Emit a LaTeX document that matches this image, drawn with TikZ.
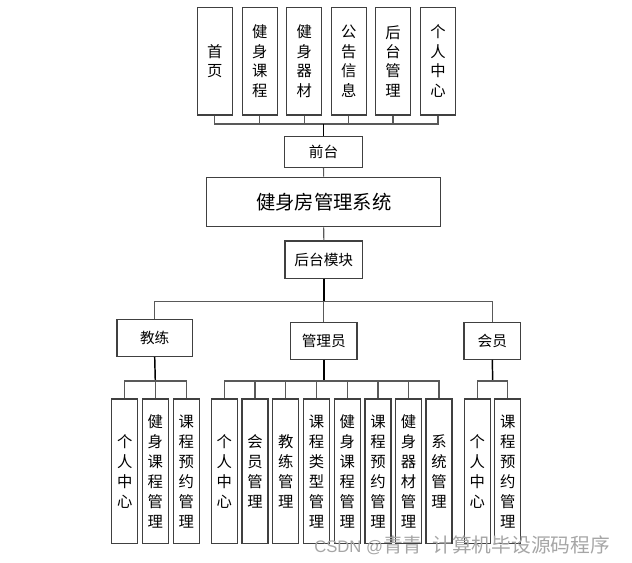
\documentclass[tikz,border=0pt]{standalone}
\usepackage{fontspec}
\setmainfont{Noto Sans CJK SC}
\newfontfamily\wmlatin{Liberation Sans}
\begin{document}
\begin{tikzpicture}[x=0.75pt,y=-0.75pt,
  box/.style={draw=black!75,line width=0.9pt,fill=white,inner sep=0pt,align=center},
  topbox/.style={box,minimum width=26.25pt,minimum height=80.8pt,font=\fontsize{11.5}{14.6}\selectfont},
  lowbox/.style={box,minimum width=19.5pt,minimum height=108.5pt,font=\fontsize{11.5}{15}\selectfont},
  lbl/.style={box,minimum height=27.8pt,font=\fontsize{11}{13}\selectfont},
  trunk/.style={black,line width=1.1pt},
  branch/.style={black!65,line width=0.8pt}]
\useasboundingbox (0,0) rectangle (632,563);
% top row
\node[topbox] (t1) at (214.8,61.2) {首\\页};
\node[topbox] (t2) at (259.8,61.2) {健\\身\\课\\程};
\node[topbox] (t3) at (304.2,61.2) {健\\身\\器\\材};
\node[topbox] (t4) at (348.8,61.2) {公\\告\\信\\息};
\node[topbox] (t5) at (393,61.2) {后\\台\\管\\理};
\node[topbox] (t6) at (438,61.2) {个\\人\\中\\心};
\node[box,minimum width=58.8pt,minimum height=23pt,font=\fontsize{11}{13}\selectfont] (qt) at (323.5,152) {前台};
\node[box,minimum width=175.5pt,minimum height=37pt,font=\fontsize{14.5}{16}\selectfont] (sys) at (323.7,202) {健身房管理系统};
\node[box,minimum width=58.3pt,minimum height=28pt,font=\fontsize{11}{13}\selectfont] (hm) at (323.8,259.7) {后台模块};
\node[lbl,minimum width=56.5pt] (coach) at (154.7,337.8) {教练};
\node[lbl,minimum width=49.7pt] (admin) at (323.8,340.8) {管理员};
\node[lbl,minimum width=42.5pt] (mem) at (492.3,340.8) {会员};
% coach children
\node[lowbox] (c1) at (124.7,471.3) {个\\人\\中\\心};
\node[lowbox] (c2) at (155.3,471.3) {健\\身\\课\\程\\管\\理};
\node[lowbox] (c3) at (186.2,471.3) {课\\程\\预\\约\\管\\理};
% admin children
\node[lowbox] (a1) at (224.3,471.3) {个\\人\\中\\心};
\node[lowbox] (a2) at (255,471.3) {会\\员\\管\\理};
\node[lowbox] (a3) at (285.7,471.3) {教\\练\\管\\理};
\node[lowbox] (a4) at (316.5,471.3) {课\\程\\类\\型\\管\\理};
\node[lowbox] (a5) at (347.2,471.3) {健\\身\\课\\程\\管\\理};
\node[lowbox] (a6) at (378,471.3) {课\\程\\预\\约\\管\\理};
\node[lowbox] (a7) at (408.5,471.3) {健\\身\\器\\材\\管\\理};
\node[lowbox] (a8) at (439,471.3) {系\\统\\管\\理};
% member children
\node[lowbox] (m1) at (477.2,471.3) {个\\人\\中\\心};
\node[lowbox] (m2) at (507.7,471.3) {课\\程\\预\\约\\管\\理};
% connectors
\coordinate (tb) at (323.5,124);
\foreach \i in {1,...,6} \draw[branch] (t\i.south) |- (tb);
\draw[trunk] (qt.north) -- (tb);
\draw[branch] (qt.south) -- (sys.north);
\draw[branch] (sys.south) -- (hm.north);
\coordinate (mb) at (323.8,301.7);
\draw[trunk] (hm.south) -- (mb);
\draw[branch] (coach.north) |- (mb);
\draw[branch] (mem.north) |- (mb);
\draw[branch] (admin.north) -- (mb);
\coordinate (cb) at (155.3,381);
\draw[trunk] (coach.south) -- (cb);
\foreach \i in {1,2,3} \draw[branch] (c\i.north) |- (cb);
\coordinate (ab) at (323.8,381);
\draw[trunk] (admin.south) -- (ab);
\foreach \i in {1,...,8} \draw[branch] (a\i.north) |- (ab);
\coordinate (mbb) at (492.7,381);
\draw[trunk] (mem.south) -- (mbb);
\foreach \i in {1,2} \draw[branch] (m\i.north) |- (mbb);
% watermark
\node[anchor=west,text=black!35,font=\fontsize{14.8}{17}\selectfont,inner sep=0pt] (wm) at (314,545) {{\wmlatin\fontsize{12.5}{14}\selectfont CSDN @}青青\hspace{0.5em}计算机毕设源码程序};
\end{tikzpicture}
\end{document}
